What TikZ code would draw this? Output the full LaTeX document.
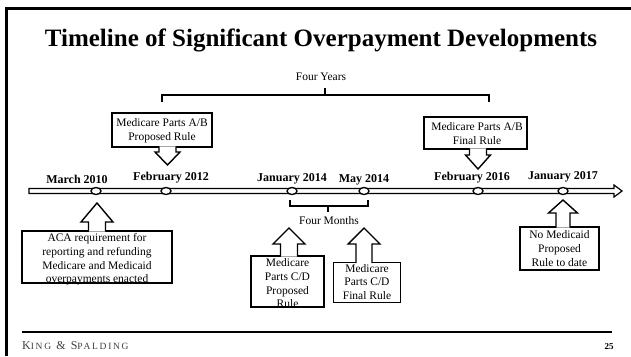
\documentclass[tikz,border=0pt]{standalone}
\usepackage{fontspec}
\setmainfont{Liberation Serif}
\newfontfamily\ksfont[LetterSpace=18]{Liberation Serif}
\usetikzlibrary{shapes.geometric}

% up-pointing callout arrow: tip x, tip y, head base y, box top y, head half width, shaft half width
\newcommand\upcall[6]{%
  \filldraw[callout] (#1-#6,#4+0.7) -- (#1-#6,#3) -- (#1-#5,#3) -- (#1,#2)
    -- (#1+#5,#3) -- (#1+#6,#3) -- (#1+#6,#4+0.7);}
% down-pointing callout arrow: tip x, tip y, head base y, box bottom y, head half width, shaft half width
\newcommand\downcall[6]{%
  \filldraw[callout] (#1-#6,#4-0.7) -- (#1-#6,#3) -- (#1-#5,#3) -- (#1,#2)
    -- (#1+#5,#3) -- (#1+#6,#3) -- (#1+#6,#4-0.7);}

\begin{document}
\begin{tikzpicture}[x=1pt,y=-1pt,
  box/.style={draw, line width=1.4pt, fill=white, inner sep=0pt},
  txt/.style={font=\fontsize{11.5}{13.7}\selectfont, align=center, inner sep=0pt},
  lbl/.style={font=\bfseries\fontsize{12}{14}\selectfont, inner sep=0pt},
  callout/.style={draw, line width=1.4pt, fill=white, line join=miter},
  dot/.style={draw, ellipse, line width=1.3pt, fill=white, inner sep=0pt,
    minimum width=10pt, minimum height=7pt},
  brk/.style={line width=1.3pt}]
\useasboundingbox (0,0) rectangle (631,356);
\fill[white] (0,0) rectangle (631,356);

% slide frame
\draw[line width=3pt] (6.5,356) -- (6.5,8) -- (631,8);

% title
\node[font=\bfseries\fontsize{25}{28}\selectfont, anchor=base, inner sep=0pt]
  (title) at (321,46) {Timeline of Significant Overpayment Developments};

% four-year bracket
\node[txt] (fy) at (321,77) {Four Years};
\draw[brk] (162,102) -- (162,95) -- (489,95) -- (489,102);
\draw[brk] (325,95) -- (325,88);

% timeline bar with open arrow head
\draw[line width=1.2pt, fill=white, line join=miter]
  (29,188.5) -- (614,188.5) -- (614,185) -- (622,191) -- (614,197)
  -- (614,193.5) -- (29,193.5) -- cycle;

% milestones
\node[dot] (m10) at (96,191) {};
\node[dot] (f12) at (166,191) {};
\node[dot] (j14) at (292,191) {};
\node[dot] (y14) at (364,191) {};
\node[dot] (f16) at (478,191) {};
\node[dot] (j17) at (563,191) {};

\node[lbl] (lm10) at (77,179.5) {March 2010};
\node[lbl] (lf12) at (171,178) {February 2012};
\node[lbl] (lj14) at (292,178.5) {January 2014};
\node[lbl] (ly14) at (364,179.5) {May 2014};
\node[lbl] (lf16) at (472,178) {February 2016};
\node[lbl] (lj17) at (563,177) {January 2017};

% four-month bracket
\draw[brk] (290,200) -- (290,206) -- (368,206) -- (368,200);
\draw[brk] (328,206) -- (328,212);
\node[txt] (fm) at (329,221) {Four Months};

% Medicare Parts A/B proposed rule
\node[box, minimum width=100pt, minimum height=34pt] (abp) at (162,130) {};
\node[txt] (abpt) at (162,130.5) {Medicare Parts A/B\\Proposed Rule};
\downcall{167.5}{165}{152}{147}{12.5}{8.5}

% Medicare Parts A/B final rule
\node[box, minimum width=103pt, minimum height=32pt] (abf) at (475.5,133) {};
\node[txt] (abft) at (477,133.5) {Medicare Parts A/B\\Final Rule};
\downcall{478}{169}{155}{149}{12.5}{8.5}

% ACA requirement
\node[box, minimum width=150pt, minimum height=52pt] (aca) at (97,257) {};
\node[txt] (acat) at (97,259.5) {ACA requirement for\\reporting and refunding\\Medicare and Medicaid\\overpayments enacted};
\upcall{97}{203}{222}{231}{16}{8.5}

% Medicare Parts C/D proposed rule
\node[box, minimum width=73pt, minimum height=51pt] (cdp) at (287.5,281.5) {};
\node[txt] (cdpt) at (287.5,283.5) {Medicare\\Parts C/D\\Proposed\\Rule};
\upcall{289}{228}{244}{256}{16}{8.5}

% Medicare Parts C/D final rule
\node[box, minimum width=67pt, minimum height=40pt] (cdf) at (367,282.5) {};
\node[txt] (cdft) at (367,282) {Medicare\\Parts C/D\\Final Rule};
\upcall{364}{228}{244}{262.5}{16}{8}

% no Medicaid rule
\node[box, minimum width=79pt, minimum height=43pt] (nmr) at (559.5,248.5) {};
\node[txt] (nmrt) at (559.5,248.5) {No Medicaid\\Proposed\\Rule to date};
\upcall{563}{200}{213}{227}{14.5}{7}

% footer
\draw[line width=1.2pt] (22,332) -- (612,332);
\node[anchor=base west, inner sep=0pt, text=black!75] (ks) at (22,349)
  {\ksfont\fontsize{12}{13}\selectfont K{\fontsize{9.5}{11}\selectfont ING}
   \& S{\fontsize{9.5}{11}\selectfont PALDING}};
\node[anchor=base, inner sep=0pt, font=\bfseries\fontsize{9}{10}\selectfont]
  (pg) at (609,349) {25};
\end{tikzpicture}
\end{document}
